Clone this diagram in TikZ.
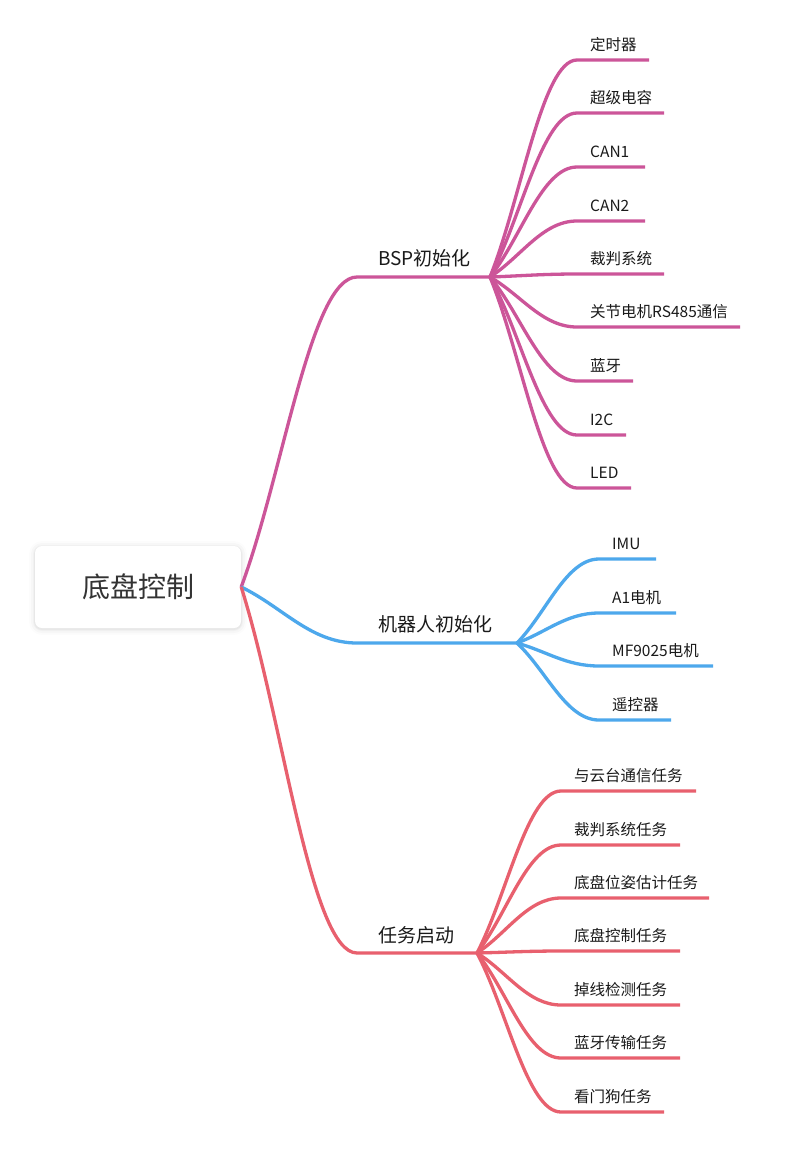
\documentclass[tikz,border=0pt]{standalone}
\usepackage{fontspec}
\setmainfont{Noto Sans CJK SC}
\usetikzlibrary{calc}
\definecolor{cmag}{HTML}{CC5599}
\definecolor{cblue}{HTML}{4DA8EC}
\definecolor{cred}{HTML}{E8606E}
\definecolor{ctext}{HTML}{1A1A1A}
\definecolor{croot}{HTML}{333333}
\begin{document}
\begin{tikzpicture}[x=1pt,y=-1pt,
  mm/.style={to path={let \p1=(\tikztostart), \p2=(\tikztotarget) in
     .. controls ({\x1+0.36*(\x2-\x1)},{\y1+0.36*(\y2-\y1)}) and ({\x1+0.6*(\x2-\x1)},\y2) .. (\tikztotarget)}},
  lnk/.style={line width=3.3pt},
  leaf/.style={anchor=west, inner sep=0pt, font=\fontsize{15.5}{18}\selectfont, text=ctext},
  mainlbl/.style={anchor=west, inner sep=0pt, font=\fontsize{19}{22}\selectfont, text=ctext},
  rootbox/.style={fill=white, rounded corners=7pt, minimum width=206pt, minimum height=82pt, inner sep=0pt,
     font=\fontsize{28}{32}\selectfont, text=croot}
]
\useasboundingbox[fill=white] (0,0) rectangle (788,1168);
% soft shadow of the root box
\foreach \s/\o in {6/0.012,4/0.018,2/0.025,1/0.035} {
  \fill[black, opacity=\o, rounded corners=7+\s] (35-\s,547-\s) rectangle (241+\s,629+\s);
}
\node[rootbox] (root) at (138,587) {\raisebox{-3pt}{底盘控制}};

% ---- BSP 初始化
\coordinate (bsps) at (357,277);
\coordinate (bspf) at (490,277);
\draw[lnk,cmag] (root.east) to[mm] (bsps) -- (bspf);
\node[mainlbl] (bsp) at (378,258) {BSP初始化};
\foreach \i/\y/\e/\t in {1/60/649/定时器, 2/113/664/超级电容, 3/167/645/CAN1, 4/221/645/CAN2,
   5/274/664/裁判系统, 6/327/740/关节电机RS485通信, 7/381/633/蓝牙, 8/435/626/I2C, 9/488/631/LED} {
  \coordinate (bs\i) at (577,\y);
  \coordinate (be\i) at (\e,\y);
  \draw[lnk,cmag] (bspf) to[mm] (bs\i) -- (be\i);
  \node[leaf] (b\i) at (590,\y-15) {\t};
}

% ---- 机器人初始化
\coordinate (robs) at (357,643);
\coordinate (robf) at (517,643);
\draw[lnk,cblue] (root.east) to[mm] (robs) -- (robf);
\node[mainlbl] (rob) at (378,624) {机器人初始化};
\foreach \i/\y/\e/\t in {1/559/656/IMU, 2/613/676/A1电机, 3/666/713/MF9025电机, 4/720/671/遥控器} {
  \coordinate (rs\i) at (599,\y);
  \coordinate (re\i) at (\e,\y);
  \draw[lnk,cblue] (robf) to[mm] (rs\i) -- (re\i);
  \node[leaf] (r\i) at (612,\y-15) {\t};
}

% ---- 任务启动
\coordinate (tsks) at (357,953);
\coordinate (tskf) at (477,953);
\draw[lnk,cred] (root.east) to[mm] (tsks) -- (tskf);
\node[mainlbl] (tsk) at (378,935) {任务启动};
\foreach \i/\y/\e/\t in {1/791/696/与云台通信任务, 2/845/680/裁判系统任务, 3/898/709/底盘位姿估计任务,
   4/951/680/底盘控制任务, 5/1005/680/掉线检测任务, 6/1058/680/蓝牙传输任务, 7/1112/664/看门狗任务} {
  \coordinate (ts\i) at (561,\y);
  \coordinate (te\i) at (\e,\y);
  \draw[lnk,cred] (tskf) to[mm] (ts\i) -- (te\i);
  \node[leaf] (t\i) at (574,\y-15) {\t};
}
\end{tikzpicture}
\end{document}
